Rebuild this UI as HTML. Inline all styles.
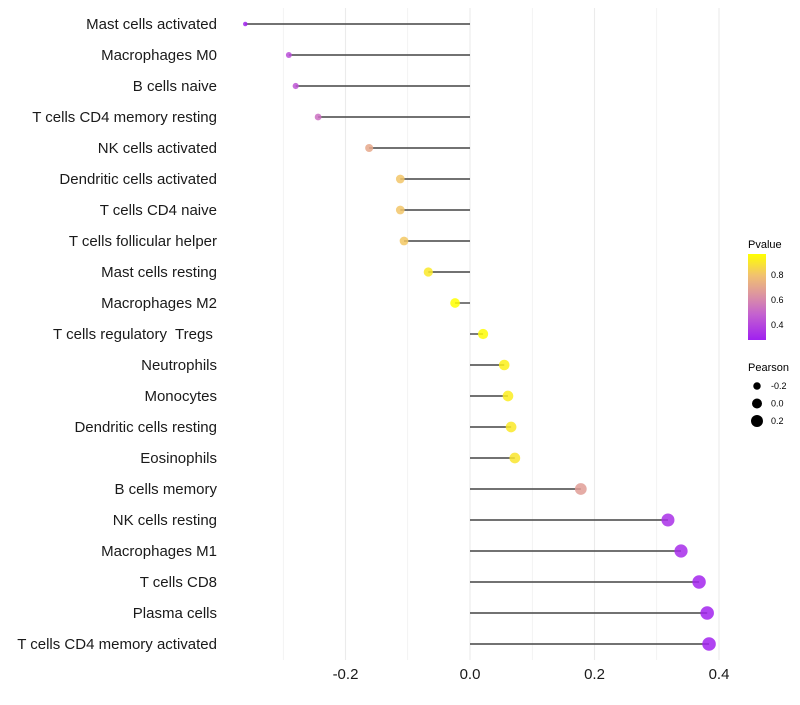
<!DOCTYPE html>
<html><head><meta charset="utf-8"><style>
body{margin:0;background:#fff;}
svg{font-family:"Liberation Sans",sans-serif;}
</style></head><body>
<svg id="chart" width="800" height="700">
<g id="grid"></g>
<g id="marks"></g>
<g id="labels"></g>
<g id="xticks"></g>
<g id="legend">
  <defs><linearGradient id="pg" x1="0" y1="1" x2="0" y2="0">
    <stop offset="0" stop-color="#a020f0"/><stop offset="0.3" stop-color="#c462cf"/>
    <stop offset="0.5" stop-color="#da8fa6"/><stop offset="0.75" stop-color="#f1c170"/>
    <stop offset="1" stop-color="#ffff00"/></linearGradient></defs>
  <text x="748" y="248" font-size="11">Pvalue</text>
  <rect x="748" y="254" width="18" height="86" fill="url(#pg)"/>
  <text x="771" y="278" font-size="9">0.8</text>
  <text x="771" y="303" font-size="9">0.6</text>
  <text x="771" y="328" font-size="9">0.4</text>
  <text x="748" y="371" font-size="11">Pearson</text>
  <g id="sizeleg"></g>
</g>
</svg>
<script>
const categories=["Mast cells activated","Macrophages M0","B cells naive","T cells CD4 memory resting","NK cells activated","Dendritic cells activated","T cells CD4 naive","T cells follicular helper","Mast cells resting","Macrophages M2","T cells regulatory  Tregs ","Neutrophils","Monocytes","Dendritic cells resting","Eosinophils","B cells memory","NK cells resting","Macrophages M1","T cells CD8","Plasma cells","T cells CD4 memory activated"];
const pearson=[-0.361,-0.291,-0.280,-0.244,-0.162,-0.112,-0.112,-0.106,-0.067,-0.024,0.021,0.055,0.061,0.066,0.072,0.178,0.318,0.339,0.368,0.381,0.384];
const pvalue=[0.28,0.42,0.44,0.52,0.70,0.80,0.80,0.81,0.90,0.97,0.95,0.92,0.91,0.90,0.89,0.66,0.32,0.31,0.29,0.28,0.28];
const xTicks=[-0.2,0.0,0.2,0.4];
const xTickLabels=["-0.2","0.0","0.2","0.4"];
const sizeLegend=[-0.2,0.0,0.2];
const NS="http://www.w3.org/2000/svg";
const x=v=>470+v*622.5;
const y=i=>24+i*31;
const rad=v=>Math.sqrt(Math.max(2,9+55*(v+0.29)));
function col(p){
  const stops=[[0.27,[160,32,240]],[0.48,[196,98,207]],[0.61,[218,143,166]],[0.79,[241,193,112]],[0.96,[255,255,0]]];
  if(p<=stops[0][0])return "rgb("+stops[0][1]+")";
  for(let k=1;k<stops.length;k++){if(p<=stops[k][0]){const t=(p-stops[k-1][0])/(stops[k][0]-stops[k-1][0]);const a=stops[k-1][1],b=stops[k][1];return "rgb("+a.map((c,j)=>Math.round(c+(b[j]-c)*t)).join(",")+")";}}
  return "rgb(255,255,0)";
}
function mk(tag,attrs,parent){const e=document.createElementNS(NS,tag);for(const k in attrs)e.setAttribute(k,attrs[k]);parent.appendChild(e);return e;}
const grid=document.getElementById('grid');
for(let v=-0.3;v<=0.41;v+=0.1){
  const gl=mk('line',{x1:x(v),x2:x(v),y1:8,y2:660,stroke:'#ebebeb','stroke-width':Math.abs(Math.round(v*10))%2===0?1.1:0.6},grid);
  
  
}
const marks=document.getElementById('marks'),labels=document.getElementById('labels');
categories.forEach((c,i)=>{
  const l=mk('line',{x1:x(0),x2:x(pearson[i]),y1:y(i),y2:y(i),stroke:'#444','stroke-width':1.4},marks);
  
  
  const p=mk('circle',{cx:x(pearson[i]),cy:y(i),r:rad(pearson[i]),fill:col(pvalue[i]),'fill-opacity':0.85},marks);
  
  
  const t=mk('text',{x:217,y:y(i)+5,'text-anchor':'end','font-size':15,fill:'#1a1a1a'},labels);
  t.setAttribute('style','white-space:pre');
  t.textContent=c;
  
  
});
const xt=document.getElementById('xticks');
xTicks.forEach((v,i)=>{
  const t=mk('text',{x:x(v),y:679,'text-anchor':'middle','font-size':15,fill:'#1a1a1a'},xt);
  t.textContent=xTickLabels[i];
  
  
});
const sl=document.getElementById('sizeleg');
sizeLegend.forEach((v,i)=>{
  const c=mk('circle',{cx:757,cy:386+i*17.5,r:rad(v),fill:'#000'},sl);
  
  
  const t=mk('text',{x:771,y:389+i*17.5,'font-size':9},sl);
  t.textContent=v.toFixed(1);
  
  
});
</script>
</body></html>
